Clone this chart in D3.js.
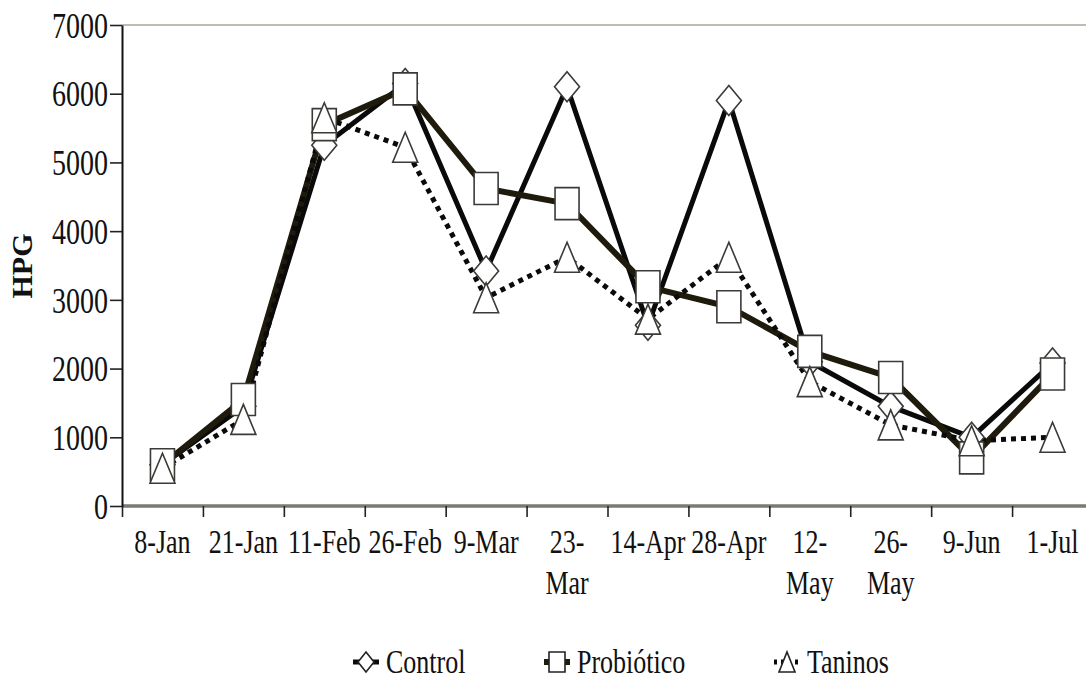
<!DOCTYPE html>
<html><head><meta charset="utf-8">
<script src="https://cdn.jsdelivr.net/npm/d3@7"></script>
<style>
body{margin:0;background:#fff;}
svg{display:block;}
text{font-family:"Liberation Serif","Times New Roman",serif;fill:#111;}
</style></head>
<body><svg id="c" width="1086" height="681"></svg>
<script>
const categories = ["8-Jan","21-Jan","11-Feb","26-Feb","9-Mar","23-Mar","14-Apr","28-Apr","12-May","26-May","9-Jun","1-Jul"];
const tickLabels = [["8-Jan"],["21-Jan"],["11-Feb"],["26-Feb"],["9-Mar"],["23-","Mar"],["14-Apr"],["28-Apr"],["12-","May"],["26-","May"],["9-Jun"],["1-Jul"]];
const control    = [600,1450,5250,6150,3420,6100,2630,5900,2100,1450,1000,2080];
const probiotico = [600,1550,5550,6070,4620,4400,3190,2900,2250,1870,700,1920];
const taninos    = [550,1260,5650,5220,3030,3620,2720,3620,1810,1180,950,1000];
const yTicks = [0,1000,2000,3000,4000,5000,6000,7000];
const seriesNames = ["Control","Probiótico","Taninos"];

const svg = d3.select("#c");
const L = 122, R = 1093, T = 25, B = 506;
const SY = 1.28;
const FONT = "Liberation Serif, Times New Roman, serif";
const x = d3.scaleBand().domain(categories).range([L,R]).padding(0);
const xIdx = d3.scaleLinear().domain([0,categories.length]).range([L,R]);
const y = d3.scaleLinear().domain([0,7000]).range([B,T]);

// top gridline
svg.append("line").attr("x1",L).attr("x2",R).attr("y1",y(7000)).attr("y2",y(7000))
  .attr("stroke","#bdbdb5").attr("stroke-width",2);

// x axis line (gray)
svg.append("line").attr("x1",L).attr("x2",R).attr("y1",B).attr("y2",B)
  .attr("stroke","#7a7a72").attr("stroke-width",3.5);

// x ticks at band boundaries
const gxt = svg.append("g").attr("transform",`translate(0,${B})`)
  .call(d3.axisBottom(xIdx).tickValues(d3.range(categories.length+1)).tickSize(11).tickSizeOuter(0).tickFormat(""));
gxt.select(".domain").remove();
gxt.selectAll(".tick line").attr("stroke","#222").attr("stroke-width",1.6);

// x labels
const gx = svg.append("g").attr("transform",`translate(0,${B})`)
  .attr("font-family",FONT)
  .call(d3.axisBottom(x).tickSize(0).tickFormat(""));
gx.attr("font-family",FONT);
gx.select(".domain").remove();
gx.selectAll(".tick").each(function(d,i){
  const t = d3.select(this).select("text").text(null)
    .attr("y",null).attr("dy",null)
    .attr("transform",`scale(1,${SY})`)
    .attr("font-size",26).attr("text-anchor","middle").attr("fill","#111");
  tickLabels[i].forEach((s,j)=>{
    t.append("tspan").attr("x",0).attr("y",(47+41*j)/SY).text(s);
  });
});

// y axis
const gy = svg.append("g").attr("transform",`translate(${L},0)`)
  .call(d3.axisLeft(y).tickValues(yTicks).tickFormat(d3.format("d")).tickSize(12).tickSizeOuter(0).tickPadding(2));
gy.attr("font-family",FONT);
gy.select(".domain").attr("stroke","#111").attr("stroke-width",2);
gy.selectAll(".tick line").attr("stroke","#222").attr("stroke-width",1.6);
gy.selectAll(".tick text").attr("font-size",28).attr("fill","#111")
  .attr("dy","0.34em").attr("transform",`scale(1,${SY})`);

// y title
svg.append("text").attr("transform",`translate(32,266) rotate(-90)`)
  .attr("font-family",FONT)
  .attr("text-anchor","middle").attr("font-size",30).attr("font-weight","bold").text("HPG");

// marker shapes
function shape(kind,w,h){
  if(kind==="diamond") return `M0,${-h/2}L${w/2},0L0,${h/2}L${-w/2},0Z`;
  if(kind==="square") return `M${-w/2},${-h/2}H${w/2}V${h/2}H${-w/2}Z`;
  return `M0,${-h/2}L${w/2},${h/2}L${-w/2},${h/2}Z`;
}

const series = [
  {name:seriesNames[0], data:control, color:"#0a0a0a", width:5, dash:null, kind:"diamond", mw:25, mh:30},
  {name:seriesNames[1], data:probiotico, color:"#1e1a0c", width:6, dash:null, kind:"square", mw:24, mh:32},
  {name:seriesNames[2], data:taninos, color:"#0a0a0a", width:5, dash:"5,5", kind:"triangle", mw:25, mh:30}
];

const line = d3.line().x((d,i)=>x(categories[i])+x.bandwidth()/2).y(d=>y(d));
series.forEach(s=>{
  svg.append("path").datum(s.data).attr("d",line).attr("fill","none")
    .attr("stroke",s.color).attr("stroke-width",s.width)
    .attr("stroke-dasharray",s.dash).attr("stroke-linejoin","miter");
});
series.forEach(s=>{
  svg.append("g").selectAll("path").data(s.data).join("path")
    .attr("transform",(d,i)=>`translate(${x(categories[i])+x.bandwidth()/2},${y(d)})`)
    .attr("d",shape(s.kind,s.mw,s.mh))
    .attr("fill","#fff").attr("stroke","#3a3a36").attr("stroke-width",1.6);
});

// legend
const legX = [366,557,787];
const legY = 662;
series.forEach((s,i)=>{
  const g = svg.append("g").attr("transform",`translate(${legX[i]},${legY})`);
  g.append("line").attr("x1",-13).attr("x2",13).attr("y1",0).attr("y2",0)
    .attr("stroke",s.color).attr("stroke-width",s.width).attr("stroke-dasharray",s.dash?"3,4":null);
  g.append("path").attr("d",shape(s.kind,16,20)).attr("fill","#fff")
    .attr("stroke","#222").attr("stroke-width",1.6);
  g.append("text").attr("x",20).attr("y",11/SY).attr("transform",`scale(1,${SY})`)
    .attr("font-family",FONT).attr("font-size",26).text(s.name);
});
</script></body></html>
